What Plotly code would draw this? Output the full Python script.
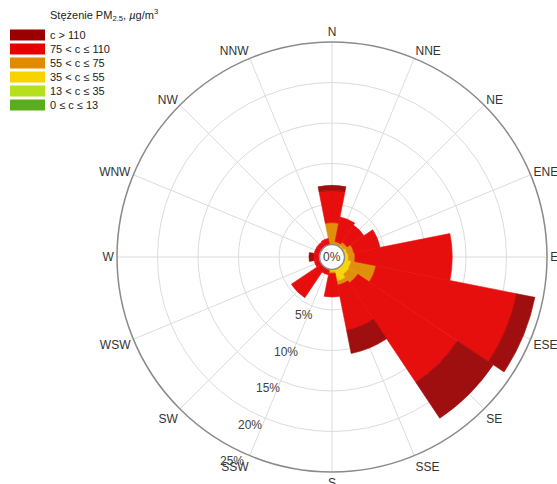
import math
import plotly.graph_objects as go

# Wind directions (16-point compass) and frequency of each PM2.5 class (% of hours)
directions = ["N", "NNE", "NE", "ENE", "E", "ESE", "SE", "SSE",
              "S", "SSW", "SW", "WSW", "W", "WNW", "NW", "NNW"]

class_labels = ["0 \u2264 c \u2264 13", "13 < c \u2264 35", "35 < c \u2264 55",
                "55 < c \u2264 75", "75 < c \u2264 110", "c > 110"]
class_colors = ["#5aae1e", "#b4e01e", "#f7d400", "#e08a00", "#e60000", "#9b0000"]

freq_0_13 = [0, 0, 0, 0, 0, 0, 0, 0, 0, 0, 0, 0, 0, 0, 0, 0]
freq_13_35 = [0, 0, 0, 0, 0, 0, 0, 0, 0, 0, 0, 0, 0, 0, 0, 0]
freq_35_55 = [0.1, 0.1, 0.2, 0.4, 0.5, 0.9, 1.0, 1.5, 0.3, 0, 0, 0, 0, 0, 0, 0]
freq_55_75 = [2.6, 0.3, 0.5, 0.8, 0.8, 3.1, 1.3, 0.5, 0.2, 0, 0, 0, 0, 0, 0, 0]
freq_75_110 = [4.0, 3.1, 2.5, 3.3, 12.0, 17.7, 14.8, 5.7, 2.9, 0.7, 4.5, 0.7, 0.8, 0.7, 0.7, 0.8]
freq_over_110 = [0.6, 0, 0, 0, 0, 2.3, 5.3, 2.9, 0, 0, 0, 0, 0.5, 0, 0, 0]

series = [freq_0_13, freq_13_35, freq_35_55, freq_55_75, freq_75_110, freq_over_110]

radial_max = 25
radial_ticks = [5, 10, 15, 20, 25]
radial_ticktext = ["5%", "10%", "15%", "20%", "25%"]

W, H = 557, 484
FONT = "Liberation Sans, Arial, sans-serif"

fig = go.Figure()
for vals, name, col in zip(series, class_labels, class_colors):
    fig.add_trace(go.Barpolar(
        r=vals, theta=directions, name=name,
        marker=dict(color=col, line=dict(color=col, width=0.6)),
        opacity=0.94, showlegend=False,
    ))

# polar area: centre (cx, cy) px, outer radius R px, inner hole radius R0 px
cx, cy, R, R0 = 332, 257, 215, 12.5
fig.update_layout(
    width=W, height=H,
    margin=dict(l=0, r=0, t=0, b=0),
    paper_bgcolor="white",
    font=dict(family=FONT, size=12, color="#333333"),
    polar=dict(
        domain=dict(x=[(cx - R) / W, (cx + R) / W],
                    y=[(H - cy - R) / H, (H - cy + R) / H]),
        bgcolor="white",
        hole=R0 / R,
        barmode="stack",
        bargap=0,
        radialaxis=dict(
            range=[0, radial_max], tickvals=radial_ticks,
            showline=False, ticks="", showticklabels=False,
            gridcolor="#dcdcdc", gridwidth=1,
        ),
        angularaxis=dict(
            type="category", categoryarray=directions,
            rotation=90, direction="clockwise",
            showline=True, linecolor="#8a8a8a", linewidth=1.5,
            gridcolor="#dcdcdc", gridwidth=1, ticks="",
            tickfont=dict(family=FONT, size=12, color="#333333"),
        ),
    ),
)

# radial scale labels, set just outside each ring along a line below-left of centre
label_angle = math.radians(-116)
for v, txt in zip(radial_ticks, radial_ticktext):
    rp = R0 + v * (R - R0) / radial_max + 12
    px = cx + rp * math.cos(label_angle)
    py = cy - rp * math.sin(label_angle)
    fig.add_annotation(x=px / W, y=1 - py / H, xref="paper", yref="paper",
                       xanchor="center", yanchor="middle",
                       text=txt, showarrow=False,
                       font=dict(family=FONT, size=12, color="#404040"))

# centre label
fig.add_annotation(x=cx / W, y=(H - cy) / H, xref="paper", yref="paper",
                   xanchor="center", yanchor="middle",
                   text="0%", showarrow=False,
                   font=dict(family=FONT, size=12, color="#404040"))

# legend: title, colour swatches and class labels
fig.add_annotation(x=48 / W, y=1 - 15 / H, xref="paper", yref="paper",
                   xanchor="left", yanchor="middle", showarrow=False,
                   text="Stężenie PM<sub>2.5</sub>, <i>\u00b5</i>g/m<sup>3</sup>",
                   font=dict(family=FONT, size=11, color="#222222"))
row_y = [35, 49, 63, 77, 91, 105]
for yy, name, col in zip(row_y, reversed(class_labels), reversed(class_colors)):
    fig.add_shape(type="rect", xref="paper", yref="paper",
                  x0=10 / W, x1=45 / W, y0=1 - (yy - 5.5) / H, y1=1 - (yy + 5.5) / H,
                  fillcolor=col, line=dict(width=0))
    fig.add_annotation(x=48 / W, y=1 - yy / H, xref="paper", yref="paper",
                       xanchor="left", yanchor="middle", showarrow=False,
                       text=name, font=dict(family=FONT, size=11, color="#222222"))

fig.write_html("out.html")
